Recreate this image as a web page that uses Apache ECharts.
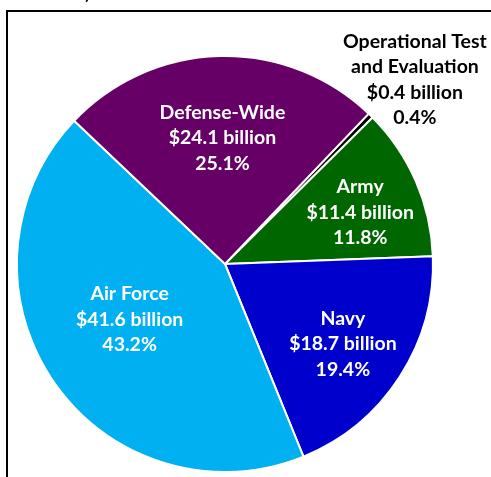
<!DOCTYPE html>
<html>
<head>
<meta charset="utf-8">
<script src="https://cdn.jsdelivr.net/npm/echarts@6/dist/echarts.min.js"></script>
<style>
html,body{margin:0;padding:0;background:#fff;}
#c{width:491px;height:477px;}
</style>
</head>
<body>
<div id="c"></div>
<script>
// Data (billions of dollars)
const categories = ['Operational Test\nand Evaluation', 'Army', 'Navy', 'Air Force', 'Defense-Wide'];
const budgets = [0.4, 11.4, 18.7, 41.6, 24.1];
const percents = ['0.4', '11.8', '19.4', '43.2', '25.1'];

// Styles (kept apart from the data)
const sliceColors = ['#000000', '#006600', '#0000CC', '#00B0F0', '#660066'];
const labelColors = ['#000000', '#ffffff', '#ffffff', '#ffffff', '#ffffff'];
const labelShift = [[115, -108], [37, -9], [28, 22], [-7, -5], [0, -19]];

const chart = echarts.init(document.getElementById('c'), null, {renderer: 'canvas'});
const data = categories.map((name, i) => ({
  name: name,
  value: budgets[i],
  pct: percents[i],
  itemStyle: {color: sliceColors[i]},
  label: {color: labelColors[i]}
}));

chart.setOption({
  animation: false,
  backgroundColor: '#ffffff',
  graphic: [
    {type: 'polyline', shape: {points: [[7, 477], [7, 11], [491, 11]]},
     style: {stroke: '#000', lineWidth: 2, fill: null}},
    {type: 'text', left: 85, top: -19,
     style: {text: ')', font: '22px Lato', fill: '#000'}}
  ],
  series: [{
    type: 'pie',
    center: [225, 264],
    radius: [0, 208],
    startAngle: 46.3,
    clockwise: true,
    avoidLabelOverlap: false,
    itemStyle: {borderColor: '#ffffff', borderWidth: 2},
    label: {
      show: true,
      position: 'inside',
      fontFamily: 'Lato',
      fontWeight: 'bold',
      fontSize: 19.5,
      lineHeight: 25.5,
      align: 'center',
      formatter: p => p.name + '\n$' + p.value + ' billion\n' + p.data.pct + '%'
    },
    labelLine: {show: false},
    labelLayout: p => ({dx: labelShift[p.dataIndex][0], dy: labelShift[p.dataIndex][1]}),
    emphasis: {disabled: true},
    data: data
  }]
});
</script>
</body>
</html>
